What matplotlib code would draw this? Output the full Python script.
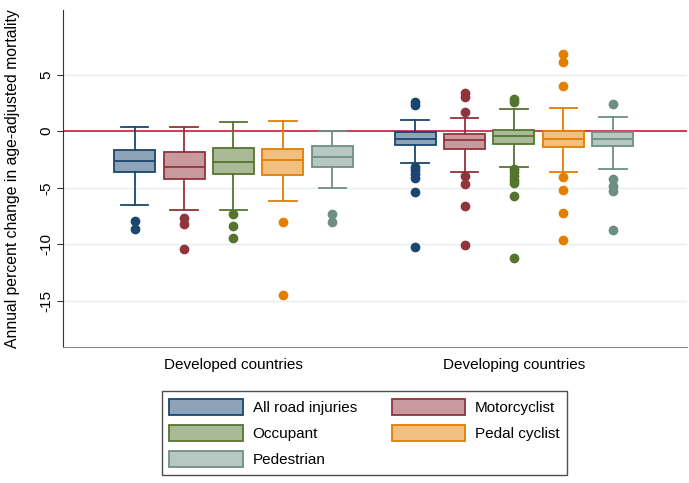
import matplotlib
matplotlib.use("Agg")
from matplotlib import pyplot as plt
from matplotlib.patches import Patch
from matplotlib.colors import to_rgb

plt.rcParams['font.family'] = ['Liberation Sans', 'DejaVu Sans']

groups = ['Developed countries', 'Developing countries']
series = ['All road injuries', 'Motorcyclist', 'Occupant', 'Pedal cyclist', 'Pedestrian']
colors = ['#1a476f', '#90353b', '#55752f', '#e37e00', '#6e8e84']

# developed countries
dev_lo = [-6.56, -6.94, -6.94, -6.2, -5.03]
dev_q1 = [-3.59, -4.2, -3.74, -3.85, -3.2]
dev_med = [-2.62, -3.18, -2.68, -2.53, -2.27]
dev_q3 = [-1.62, -1.88, -1.5, -1.56, -1.35]
dev_hi = [0.38, 0.38, 0.82, 0.91, 0.03]
dev_out = [[-7.9, -8.6],
           [-7.7, -8.2, -10.4],
           [-7.35, -8.35, -9.4],
           [-8.06, -14.45],
           [-7.3, -8.0]]

# developing countries
dvg_lo = [-2.78, -3.57, -3.13, -3.65, -3.36]
dvg_q1 = [-1.23, -1.55, -1.14, -1.4, -1.34]
dvg_med = [-0.7, -0.79, -0.41, -0.73, -0.7]
dvg_q3 = [-0.09, -0.29, 0.09, 0.0, -0.06]
dvg_hi = [0.99, 1.14, 1.93, 2.05, 1.26]
dvg_out = [[2.57, 2.28, -3.13, -3.42, -3.77, -4.15, -5.41, -10.23],
           [3.36, 3.01, 1.69, -4.0, -4.68, -6.64, -10.06],
           [2.87, 2.57, -3.3, -3.6, -4.0, -4.3, -4.6, -5.76, -11.17],
           [6.82, 6.08, 3.95, -4.06, -5.17, -7.22, -9.59],
           [2.43, -4.24, -4.88, -5.32, -8.75]]

yticks = [5, 0, -5, -10, -15]


def light(c, f=0.5):
    r, g, b = to_rgb(c)
    return (1 - f + f * r, 1 - f + f * g, 1 - f + f * b)


fig = plt.figure(figsize=(6.89, 4.83), dpi=100)
ax = fig.add_axes([0.0914, 0.2816, 0.9056, 0.6977])

gap = 1.674
group_data = [(dev_lo, dev_q1, dev_med, dev_q3, dev_hi, dev_out),
              (dvg_lo, dvg_q1, dvg_med, dvg_q3, dvg_hi, dvg_out)]
for g, (lo, q1, med, q3, hi, out) in enumerate(group_data):
    for i, c in enumerate(colors):
        st = dict(whislo=lo[i], q1=q1[i], med=med[i], q3=q3[i], whishi=hi[i], fliers=out[i])
        pos = i + g * (4 + gap)
        ax.bxp([st], positions=[pos], widths=0.83, patch_artist=True,
               showfliers=True, manage_ticks=False,
               boxprops=dict(facecolor=light(c), edgecolor=c, linewidth=1.3),
               medianprops=dict(color=c, linewidth=1.3),
               whiskerprops=dict(color=c, linewidth=1.3),
               capprops=dict(color=c, linewidth=1.3),
               flierprops=dict(marker='o', markerfacecolor=c, markeredgecolor=c,
                               markersize=6, linestyle='none'),
               capwidths=0.56)

ax.axhline(0, color='#c0102c', lw=1.1, zorder=1)
ax.set_ylim(-19.06, 10.7)
ax.set_xlim(-1.45, 4 + gap + 4 + 1.5)
ax.set_yticks(yticks)
ax.set_yticklabels([str(t) for t in yticks], rotation=90, va='center', fontsize=11)
ax.yaxis.grid(True, color='#e6eef0', lw=1)
ax.set_axisbelow(True)
ax.set_xticks([2, 2 + 4 + gap])
ax.set_xticklabels(groups, fontsize=11)
ax.tick_params(axis='x', length=0, pad=8)
ax.tick_params(axis='y', length=4, color='#333333', pad=3)
for s in ['top', 'right']:
    ax.spines[s].set_visible(False)
ax.spines['left'].set_color('#333333')
ax.spines['bottom'].set_color('#888888')
ax.set_ylabel('Annual percent change in age-adjusted mortality', fontsize=11.3, labelpad=14)

handles = [Patch(facecolor=light(c), edgecolor=c, linewidth=1.3) for c in colors]
# legend is filled row by row in the original
order = [0, 2, 4, 1, 3]
leg = fig.legend([handles[i] for i in order], [series[i] for i in order],
                 loc='upper left', bbox_to_anchor=(0.2235, 0.2065), ncol=2,
                 fontsize=11, frameon=True, fancybox=False, edgecolor='#222222',
                 handlelength=4.8, handleheight=1.3, handletextpad=0.65,
                 columnspacing=2.3, labelspacing=0.62, borderpad=0.5)
leg.get_frame().set_linewidth(1.0)

fig.savefig('out.png', dpi=100)
